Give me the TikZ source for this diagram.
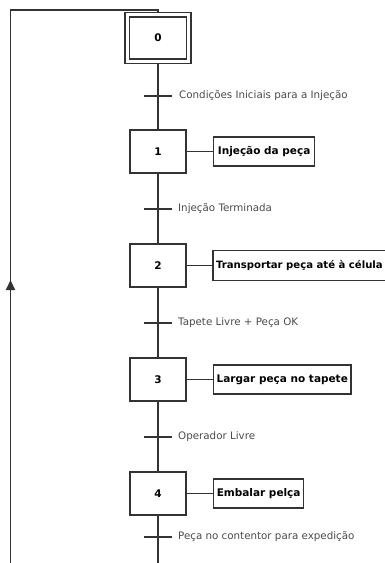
\documentclass[tikz,border=0pt]{standalone}
\usepackage{fontspec}
\setmainfont{DejaVu Sans}
\usetikzlibrary{arrows.meta}
\definecolor{ink}{HTML}{333333}
\definecolor{labelgray}{HTML}{4A4A4A}
\begin{document}
\begin{tikzpicture}[x=1pt,y=-1pt,
  every node/.style={inner sep=0pt},
  stepbox/.style={draw=ink,line width=1.5pt,fill=white,minimum width=56pt,minimum height=43pt,font=\fontsize{10.5}{12}\selectfont\bfseries},
  actbox/.style={draw=ink,line width=1.3pt,fill=white,anchor=west,minimum height=29pt,inner xsep=3pt,align=left,font=\fontsize{10.5}{12}\selectfont\bfseries},
  flow/.style={draw=ink,line width=1.4pt},
  tick/.style={draw=ink,line width=1.4pt},
  cond/.style={anchor=west,text=labelgray,font=\fontsize{10.3}{12}\selectfont}
]
\useasboundingbox (0,0) rectangle (385,563);
\clip (0,0) rectangle (385,563);

% steps
\node[stepbox,minimum width=57pt,minimum height=42pt] (s0) at (158,38) {0};
\draw[ink,line width=1.6pt] ([shift={(-3.5pt,3.8pt)}]s0.north west) rectangle ([shift={(3.5pt,-3.8pt)}]s0.south east);
\coordinate (s0top) at ([yshift=3.8pt]s0.north);
\coordinate (s0bot) at ([yshift=-3.8pt]s0.south);
\node[stepbox] (s1) at (158,151.5) {1};
\node[stepbox] (s2) at (158,265.5) {2};
\node[stepbox] (s3) at (158,379.5) {3};
\node[stepbox] (s4) at (158,493.5) {4};

% actions
\node[actbox,minimum width=101pt] (a1) at (213,151.5) {Injeção da peça};
% the frame of this action runs on past the right edge
\node[actbox,draw=none,fill=none,inner xsep=2.5pt,font=\fontsize{10.1}{12}\selectfont\bfseries] (a2) at (213,265.5) {Transportar peça até à célula};
\draw[ink,line width=1.3pt] (a2.north west) -- ++(200,0) (a2.north west) -- (a2.south west) -- ++(200,0);
\node[actbox,minimum width=135pt] (a3) at (213,379.5) {Largar peça no tapete};
\node[actbox,minimum width=90pt] (a4) at (213,493.5) {Embalar pelça};

\foreach \i in {1,2,3,4} \draw[flow] (s\i.east) -- (a\i.west);

% transitions
\coordinate (t1) at (158,96);
\coordinate (t2) at (158,209);
\coordinate (t3) at (158,323);
\coordinate (t4) at (158,437);
\coordinate (t5) at (158,537);
\foreach \i in {1,...,5} \draw[tick] ([xshift=-14pt]t\i) -- ([xshift=14pt]t\i);

\node[cond] (c1) at (179,96) {Condições Iniciais para a Injeção};
\node[cond] (c2) at (178,209) {Injeção Terminada};
\node[cond] (c3) at (178,323) {Tapete Livre + Peça OK};
\node[cond] (c4) at (178,437) {Operador Livre};
\node[cond] (c5) at (178,537) {Peça no contentor para expedição};

% main flow
\draw[flow] (s0bot) -- (s1.north);
\draw[flow] (s1.south) -- (s2.north);
\draw[flow] (s2.south) -- (s3.north);
\draw[flow] (s3.south) -- (s4.north);

% return loop
\coordinate (lb) at (10.5,580);
\coordinate (lt) at (10.5,10);
\coordinate (ct) at (158,10);
\draw[flow,line width=1.9pt] (s4.south) -- (158,580) -- (lb) -- (lt) -- (ct) -- (s0top);
\draw[ink,line width=1.9pt,-{Triangle[length=10pt,width=9pt]}] (10.5,292) -- (10.5,280);
\end{tikzpicture}
\end{document}
